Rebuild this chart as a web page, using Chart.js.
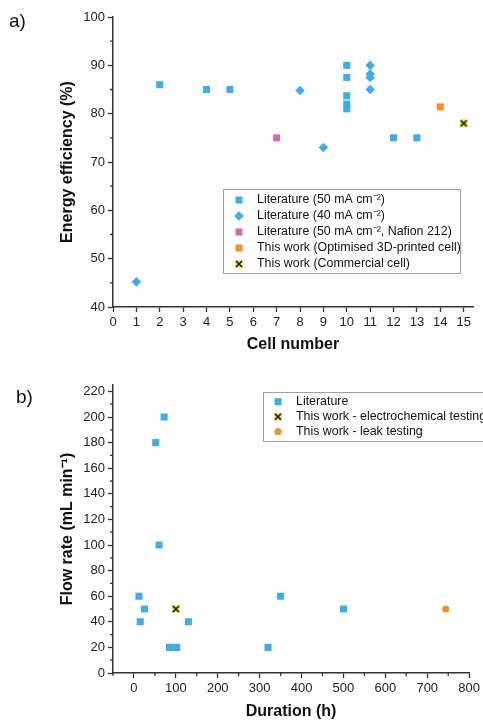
<!DOCTYPE html>
<html>
<head>
<meta charset="utf-8">
<script src="https://cdn.jsdelivr.net/npm/chart.js@4.4.1/dist/chart.umd.min.js"></script>
<style>
  body { margin: 0; background: #fff; width: 483px; height: 720px; overflow: hidden; position: relative; font-family: "Liberation Sans", Arial, sans-serif; }
  .wrap { position: absolute; left: 0; width: 483px; }
  #wrapA { top: 0; height: 355px; }
  #wrapB { top: 355px; height: 365px; }
  .panel { position: absolute; font-size: 19px; color: #111; z-index: 2; }
</style>
</head>
<body>
<div class="wrap" id="wrapA"><canvas id="chartA" width="483" height="355"></canvas></div>
<div class="wrap" id="wrapB"><canvas id="chartB" width="483" height="365"></canvas></div>
<div class="panel" style="left:9px;top:10px">a)</div>
<div class="panel" style="left:16px;top:386px">b)</div>
<script>
// ---- data, panel a) ----
const lit50Cell = [2, 4, 5, 10, 10, 10, 10, 10, 12, 13];
const lit50Eff = [86, 85, 85, 90, 87.5, 83.7, 82, 81, 75, 75];
const lit40Cell = [1, 8, 9, 11, 11, 11, 11];
const lit40Eff = [45.2, 84.8, 73, 90, 88.2, 87.5, 85];
const nafionCell = [7];
const nafionEff = [75];
const optimisedCell = [14];
const optimisedEff = [81.4];
const commercialCell = [15];
const commercialEff = [78];
const cellTicks = [0, 1, 2, 3, 4, 5, 6, 7, 8, 9, 10, 11, 12, 13, 14, 15];
const effTicks = [40, 50, 60, 70, 80, 90, 100];
const effMinor = [45, 55, 65, 75, 85, 95];
const legendLabelsA = [
  "Literature (50 mA cm\u207B\u00B2)",
  "Literature (40 mA cm\u207B\u00B2)",
  "Literature (50 mA cm\u207B\u00B2, Nafion 212)",
  "This work (Optimised 3D-printed cell)",
  "This work (Commercial cell)"
];

// ---- data, panel b) ----
const litDuration = [12, 15, 25, 52, 60, 72, 85, 102, 130, 320, 350, 500];
const litFlow = [60, 40, 50, 180, 100, 200, 20, 20, 40, 20, 60, 50];
const echemDuration = [100];
const echemFlow = [50];
const leakDuration = [744];
const leakFlow = [50];
const durationTicks = [0, 100, 200, 300, 400, 500, 600, 700, 800];
const durationMinor = [-50, 50, 150, 250, 350, 450, 550, 650, 750];
const flowTicks = [0, 20, 40, 60, 80, 100, 120, 140, 160, 180, 200, 220];
const flowMinor = [10, 30, 50, 70, 90, 110, 130, 150, 170, 190, 210];
const legendLabelsB = [
  "Literature",
  "This work - electrochemical testing",
  "This work - leak testing"
];

const BLUE = "#41ade2";
const PINK = "#cd6fa9";
const ORANGE = "#ea962c";
const AXIS = "#333";

function makeCross() {
  const c = document.createElement("canvas");
  c.width = 10; c.height = 10;
  const g = c.getContext("2d");
  g.fillStyle = "#f2e85a";
  g.fillRect(1, 1, 8, 8);
  g.strokeStyle = "#111";
  g.lineWidth = 1.6;
  g.beginPath();
  g.moveTo(2, 2); g.lineTo(8, 8);
  g.moveTo(8, 2); g.lineTo(2, 8);
  g.stroke();
  return c;
}
const crossImg = makeCross();

const toPts = (xs, ys) => xs.map((x, i) => ({ x: x, y: ys[i] }));

function drawMarker(ctx, ds, x, y) {
  ctx.save();
  ctx.fillStyle = ds.backgroundColor;
  const st = ds.pointStyle, r = ds.pointRadius;
  if (st === "rect") {
    const h = r * Math.SQRT1_2;
    ctx.fillRect(x - h, y - h, 2 * h, 2 * h);
  } else if (st === "rectRot") {
    ctx.beginPath();
    ctx.moveTo(x, y - r); ctx.lineTo(x + r, y); ctx.lineTo(x, y + r); ctx.lineTo(x - r, y);
    ctx.closePath(); ctx.fill();
  } else if (st === "circle") {
    ctx.beginPath(); ctx.arc(x, y, r, 0, Math.PI * 2); ctx.fill();
  } else {
    ctx.drawImage(st, x - st.width / 2, y - st.height / 2);
  }
  ctx.restore();
}

// legend box and minor ticks
const extras = {
  id: "extras",
  afterDraw(chart, args, opts) {
    const ctx = chart.ctx;
    const xs = chart.scales.x, ys = chart.scales.y;
    ctx.save();
    ctx.strokeStyle = AXIS;
    ctx.lineWidth = 1.3;
    ctx.beginPath();
    opts.minorY.forEach(v => {
      const py = ys.getPixelForValue(v);
      ctx.moveTo(xs.left - 3, py); ctx.lineTo(xs.left, py);
    });
    opts.minorX.forEach(v => {
      const px = xs.getPixelForValue(v);
      ctx.moveTo(px, ys.bottom); ctx.lineTo(px, ys.bottom + 3);
    });
    ctx.stroke();

    const L = opts.legend;
    ctx.fillStyle = "#fff";
    ctx.fillRect(L.x, L.y, L.w, L.h);
    ctx.strokeStyle = "#a0a0a0";
    ctx.lineWidth = 1;
    ctx.strokeRect(L.x + 0.5, L.y + 0.5, L.w, L.h);
    ctx.font = "12.4px 'Liberation Sans', Arial, sans-serif";
    ctx.textBaseline = "middle";
    L.labels.forEach((lab, i) => {
      const ry = L.firstRow + i * L.step;
      drawMarker(ctx, chart.data.datasets[i], L.markerX, ry);
      ctx.fillStyle = "#111";
      ctx.fillText(lab, L.textX, ry);
    });
    ctx.restore();
  }
};

function axis(min, max, ticks, title, size, titlePad, horizontal) {
  return {
    type: "linear",
    min: min,
    max: max,
    afterBuildTicks: s => { s.ticks = ticks.map(v => ({ value: v })); },
    afterFit: s => { if (horizontal) s.height = size; else s.width = size; },
    ticks: { color: "#222", font: { size: 13, family: "'Liberation Sans', Arial, sans-serif" }, padding: 3, maxRotation: 0, autoSkip: false },
    grid: { drawOnChartArea: false, drawTicks: true, tickLength: 5, tickColor: AXIS, tickWidth: 1.3 },
    border: { color: AXIS, width: 1.5 },
    title: {
      display: true, text: title, color: "#111",
      font: { size: 16, weight: "bold", lineHeight: 1, family: "'Liberation Sans', Arial, sans-serif" },
      padding: titlePad
    }
  };
}

const pointSet = (label, data, color, style, r) => ({
  label: label, data: data, pointStyle: style, pointRadius: r,
  backgroundColor: color, borderColor: color, borderWidth: 0, showLine: false
});

new Chart(document.getElementById("chartA"), {
  type: "scatter",
  data: {
    datasets: [
      pointSet(legendLabelsA[0], toPts(lit50Cell, lit50Eff), BLUE, "rect", 5),
      pointSet(legendLabelsA[1], toPts(lit40Cell, lit40Eff), BLUE, "rectRot", 4.8),
      pointSet(legendLabelsA[2], toPts(nafionCell, nafionEff), PINK, "rect", 5),
      pointSet(legendLabelsA[3], toPts(optimisedCell, optimisedEff), ORANGE, "rect", 5),
      pointSet(legendLabelsA[4], toPts(commercialCell, commercialEff), "#f2e85a", crossImg, 5)
    ]
  },
  options: {
    responsive: false,
    animation: false,
    layout: { padding: { left: 0, right: 10, top: 17, bottom: 0 } },
    plugins: {
      legend: { display: false },
      tooltip: { enabled: false },
      extras: {
        minorX: [], minorY: effMinor,
        legend: { x: 223, y: 189, w: 237, h: 84, labels: legendLabelsA, firstRow: 200, step: 16, markerX: 239, textX: 257 }
      }
    },
    scales: {
      x: axis(0, 15.4, cellTicks, "Cell number", 48, { top: 0, bottom: 2 }, true),
      y: axis(40, 100, effTicks, "Energy efficiency (%)", 113, { top: 60, bottom: 0 }, false)
    }
  },
  plugins: [extras]
});

new Chart(document.getElementById("chartB"), {
  type: "scatter",
  data: {
    datasets: [
      pointSet(legendLabelsB[0], toPts(litDuration, litFlow), BLUE, "rect", 5),
      pointSet(legendLabelsB[1], toPts(echemDuration, echemFlow), "#f2e85a", crossImg, 5),
      pointSet(legendLabelsB[2], toPts(leakDuration, leakFlow), ORANGE, "circle", 3.6)
    ]
  },
  options: {
    responsive: false,
    animation: false,
    layout: { padding: { left: 0, right: 13, top: 30, bottom: 0 } },
    plugins: {
      legend: { display: false },
      tooltip: { enabled: false },
      extras: {
        minorX: durationMinor, minorY: flowMinor,
        legend: { x: 263, y: 37, w: 240, h: 49, labels: legendLabelsB, firstRow: 46.7, step: 15, markerX: 278, textX: 296 }
      }
    },
    scales: {
      x: axis(-50, 800, durationTicks, "Duration (h)", 47, { top: 0, bottom: 0 }, true),
      y: axis(0, 225, flowTicks, "Flow rate (mL min\u207B\u00B9)", 113, { top: 60, bottom: 0 }, false)
    }
  },
  plugins: [extras]
});
</script>
</body>
</html>
